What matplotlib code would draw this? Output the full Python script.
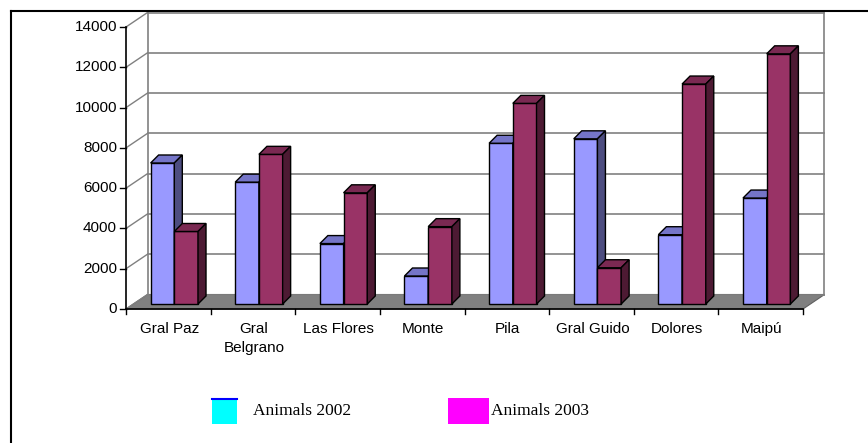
import matplotlib
matplotlib.use("Agg")
import matplotlib.pyplot as plt
from matplotlib.patches import Polygon, Rectangle
from matplotlib.lines import Line2D
from matplotlib.transforms import offset_copy

districts = ["Gral Paz", "Gral\nBelgrano", "Las Flores", "Monte", "Pila",
             "Gral Guido", "Dolores", "Maipú"]
animals_2002 = [7000, 6050, 3000, 1390, 7980, 8200, 3440, 5260]
animals_2003 = [3600, 7430, 5520, 3840, 9960, 1800, 10920, 12420]
y_ticks = [0, 2000, 4000, 6000, 8000, 10000, 12000, 14000]
series_names = ["Animals 2002", "Animals 2003"]

W, H = 868, 443
fig = plt.figure(figsize=(W / 100, H / 100), dpi=100)
fig.patch.set_facecolor("white")

# front plane of the 3d box: x = category index, y = animals
x0, x1, ytop, ybot = 126, 803, 27, 309
ax = fig.add_axes([x0 / W, 1 - ybot / H, (x1 - x0) / W, (ybot - ytop) / H])
n = len(districts)
ymax = y_ticks[-1]
ax.set_xlim(0, n)
ax.set_ylim(0, ymax)
ax.axis("off")

sx = (x1 - x0) / n
sy = (ybot - ytop) / ymax


def off(dx, dy):
    # pixel shift -> data units
    return dx / sx, dy / sy


wx, wy = off(21.5, 14.5)     # depth of floor / walls
bx, by = off(6, 5)           # bar front plane
dx, dy = off(8, 8)           # bar depth
bw = 0.28                    # bar width (category units)

grid_c = "#808080"

# floor
ax.add_patch(Polygon([(0, 0), (n, 0), (n + wx, wy), (wx, wy)], closed=True,
                     facecolor="#808080", edgecolor="#606060", lw=0.8,
                     zorder=1, clip_on=False))

# back wall gridlines + side wall diagonals
for v in y_ticks:
    ax.add_line(Line2D([wx, n + wx], [v + wy, v + wy], color=grid_c, lw=1.2,
                       zorder=1.5, clip_on=False))
    ax.add_line(Line2D([0, wx], [v, v + wy], color=grid_c, lw=1.0,
                       zorder=1.5, clip_on=False))
ax.add_line(Line2D([wx, wx], [wy, ymax + wy], color=grid_c, lw=1.2,
                   zorder=1.5, clip_on=False))
ax.add_line(Line2D([n + wx, n + wx], [wy, ymax + wy], color=grid_c, lw=1.2,
                   zorder=1.5, clip_on=False))


def bar3d(x, h, front, top, side, z):
    xa, ya = x + bx, by
    xb = xa + bw
    yt = ya + h
    kw = dict(closed=True, edgecolor="black", lw=1.0, clip_on=False,
              joinstyle="miter")
    ax.add_patch(Polygon([(xa, ya), (xb, ya), (xb, yt), (xa, yt)],
                         facecolor=front, zorder=z, **kw))
    ax.add_patch(Polygon([(xa, yt), (xb, yt), (xb + dx, yt + dy), (xa + dx, yt + dy)],
                         facecolor=top, zorder=z, **kw))
    ax.add_patch(Polygon([(xb, ya), (xb + dx, ya + dy), (xb + dx, yt + dy), (xb, yt)],
                         facecolor=side, zorder=z, **kw))


z = 3
for i in range(n):
    bar3d(i + 0.5 - bw, animals_2002[i], "#9999FF", "#7575C8", "#4D4D80", z)
    z += 0.1
    bar3d(i + 0.5, animals_2003[i], "#993366", "#7A2952", "#4D1A33", z)
    z += 0.1

# axes lines and ticks
ax.add_line(Line2D([0, 0], [0, ymax], color="black", lw=1.2, zorder=6, clip_on=False))
ax.add_line(Line2D([0, n], [0, 0], color="black", lw=1.2, zorder=6, clip_on=False))
tx, _ = off(-6, 0)
for v in y_ticks:
    ax.add_line(Line2D([tx, 0], [v, v], color="black", lw=1.0, zorder=6, clip_on=False))
    ax.text(0, v, str(v), ha="right", va="center", fontsize=11,
            family="Liberation Sans",
            transform=offset_copy(ax.transData, fig=fig, x=-9, y=0, units="dots"))
_, ty = off(0, -5)
for i in range(n + 1):
    ax.add_line(Line2D([i, i], [0, ty], color="black", lw=1.0, zorder=6, clip_on=False))
for i, name in enumerate(districts):
    ax.text(i + 0.5, 0, name, ha="center", va="top", fontsize=11,
            family="Liberation Sans", linespacing=1.45,
            transform=offset_copy(ax.transData, fig=fig, x=1, y=-13, units="dots"))

# legend
fig.add_artist(Rectangle((212 / W, 1 - 424 / H), 25 / W, 26 / H,
                         transform=fig.transFigure, facecolor="#00FFFF", edgecolor="none"))
fig.add_artist(Line2D([212 / W, 237 / W], [1 - 399 / H, 1 - 399 / H],
                      transform=fig.transFigure, color="#0000FF", lw=1.5))
fig.add_artist(Rectangle((448 / W, 1 - 424 / H), 41 / W, 26 / H,
                         transform=fig.transFigure, facecolor="#FF00FF", edgecolor="none"))
fig.text(253 / W, 1 - 411 / H, series_names[0], ha="left", va="center",
         fontsize=12.5, family="Liberation Serif")
fig.text(491 / W, 1 - 411 / H, series_names[1], ha="left", va="center",
         fontsize=12.5, family="Liberation Serif")

# outer frame (top and left edges)
fig.add_artist(Line2D([11 / W, 1], [1 - 11 / H, 1 - 11 / H],
                      transform=fig.transFigure, color="black", lw=1.5))
fig.add_artist(Line2D([11 / W, 11 / W], [0, 1 - 11 / H],
                      transform=fig.transFigure, color="black", lw=1.5))

fig.savefig("out.png", dpi=100)
